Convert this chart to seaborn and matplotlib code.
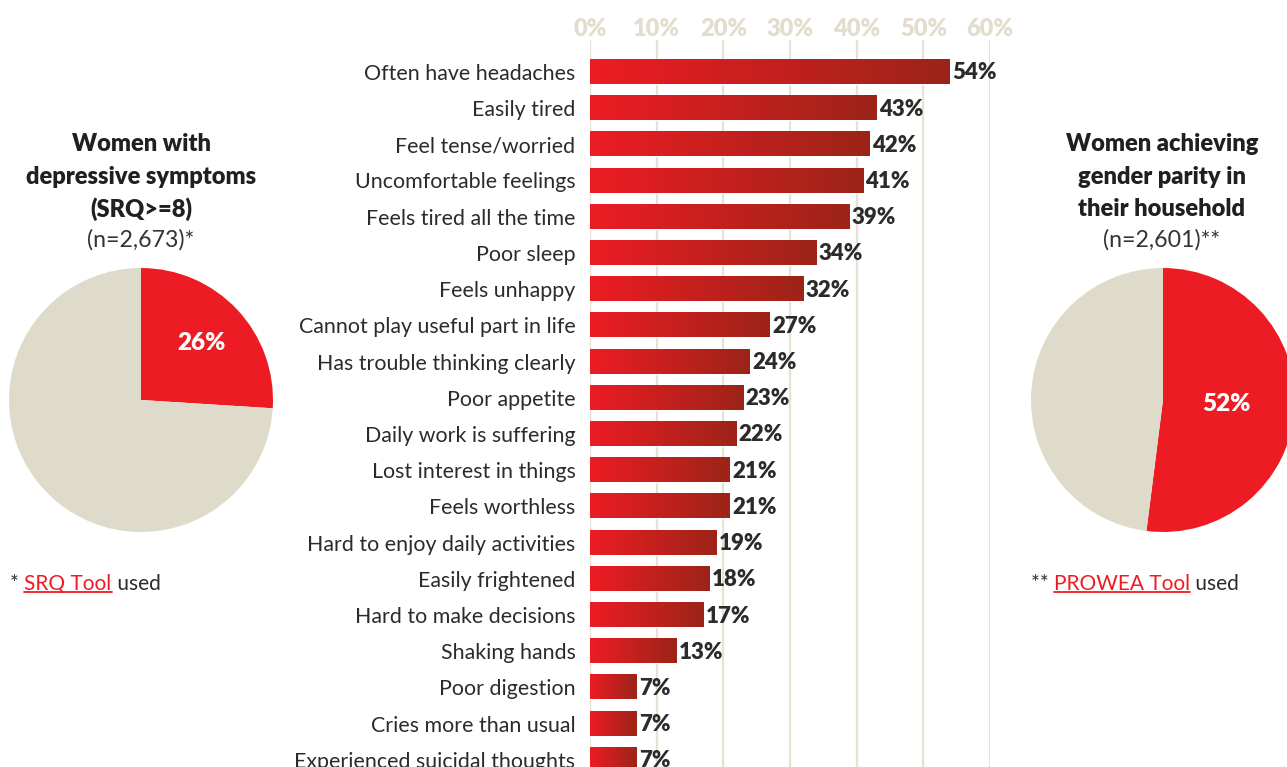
import numpy as np
import pandas as pd
import matplotlib
matplotlib.use("Agg")
import matplotlib.pyplot as plt
import seaborn as sns
from matplotlib.colors import LinearSegmentedColormap
from matplotlib.lines import Line2D

# ---- data -------------------------------------------------------------
symptoms = [
    "Often have headaches", "Easily tired", "Feel tense/worried",
    "Uncomfortable feelings", "Feels tired all the time", "Poor sleep",
    "Feels unhappy", "Cannot play useful part in life",
    "Has trouble thinking clearly", "Poor appetite",
    "Daily work is suffering", "Lost interest in things", "Feels worthless",
    "Hard to enjoy daily activities", "Easily frightened",
    "Hard to make decisions", "Shaking hands", "Poor digestion",
    "Cries more than usual", "Experienced suicidal thoughts",
]
shares = [54, 43, 42, 41, 39, 34, 32, 27, 24, 23, 22, 21, 21, 19, 18, 17, 13, 7, 7, 7]
x_ticks = [0, 10, 20, 30, 40, 50, 60]

srq_share = 26          # women with depressive symptoms
parity_share = 52       # women achieving gender parity

srq_title = ["Women with", "depressive symptoms", "(SRQ>=8)"]
srq_n = "(n=2,673)*"
parity_title = ["Women achieving", "gender parity in", "their household"]
parity_n = "(n=2,601)**"

# ---- style ------------------------------------------------------------
RED = "#ed1c24"
DARK_RED = "#9c2418"
BEIGE = "#dfdbcb"
TICK_BEIGE = "#e2ddcc"
GRID = "#e6e2d4"
INK = "#2b2b2b"

sns.set_theme(style="white")
plt.rcParams["font.family"] = ["Lato", "DejaVu Sans"]

W, H = 1287, 767
fig = plt.figure(figsize=(W / 100, H / 100), dpi=100)
fig.patch.set_facecolor("white")


def px_box(left, top, width, height):
    """Axes rectangle given in pixel units measured from the top-left corner."""
    return [left / W, 1 - (top + height) / H, width / W, height / H]


# ---- central bar chart ------------------------------------------------
ax = fig.add_axes(px_box(590, 40, 400, 727))
df = pd.DataFrame({"symptom": symptoms, "share": shares})
sns.barplot(data=df, x="share", y="symptom", orient="h", color=RED,
            width=0.67, ax=ax, zorder=2)

grad_cmap = LinearSegmentedColormap.from_list("bar_grad", [RED, DARK_RED])
gradient = np.linspace(0, 1, 256).reshape(1, -1)
for patch, val in zip(ax.patches, shares):
    x0, y0 = patch.get_x(), patch.get_y()
    w, h = patch.get_width(), patch.get_height()
    ax.imshow(gradient, extent=(x0, x0 + w, y0 + h, y0), aspect="auto",
              cmap=grad_cmap, zorder=3, interpolation="bicubic")
    ax.text(x0 + w + 0.3, y0 + h / 2 + 0.03, f"{val}%", va="center", ha="left",
            fontsize=16, fontweight="heavy", color=INK, zorder=4, clip_on=False)

ax.set_xlim(0, 60)
ax.set_ylim(19.2, -0.88)
ax.xaxis.tick_top()
ax.set_xticks(x_ticks)
ax.set_xticklabels([f"{t}%" for t in x_ticks], fontweight="heavy")
ax.tick_params(axis="x", length=0, pad=0, labelsize=17, labelcolor=TICK_BEIGE)
ax.tick_params(axis="y", length=0, pad=10.5, labelsize=15.4, labelcolor=INK)
ax.set_xlabel("")
ax.set_ylabel("")
ax.grid(axis="x", color=GRID, linewidth=1.6)
ax.grid(axis="y", visible=False)
ax.set_axisbelow(True)
for s in ax.spines.values():
    s.set_visible(False)
ax.set_facecolor("none")


# ---- side pies ----------------------------------------------------------
def draw_pie(cx, cy, r, share, label_r):
    pax = fig.add_axes(px_box(cx - r, cy - r, 2 * r, 2 * r))
    pax.pie([share, 100 - share], colors=[RED, BEIGE], startangle=90,
            counterclock=False, wedgeprops=dict(linewidth=0))
    pax.set_xlim(-1, 1)
    pax.set_ylim(-1, 1)
    pax.set_aspect("equal")
    pax.axis("off")
    mid = np.deg2rad(90 - share / 100 * 360 / 2)
    pax.text(label_r * np.cos(mid), label_r * np.sin(mid), f"{share}%",
             ha="center", va="center", color="white", fontsize=17.5,
             fontweight="heavy")
    return pax


draw_pie(141, 400, 132, srq_share, 0.63)
draw_pie(1163, 400, 132, parity_share, 0.48)


def title_block(cx, lines, n_line):
    ys = [144, 177, 209]
    for y, line in zip(ys, lines):
        fig.text(cx / W, 1 - y / H, line, ha="center", va="center",
                 fontsize=17, fontweight="heavy", color="#231f20")
    fig.text(cx / W, 1 - 240 / H, n_line, ha="center", va="center",
             fontsize=16.7, color="#333333")


title_block(141, srq_title, srq_n)
title_block(1162, parity_title, parity_n)


# ---- footnotes with an underlined tool name ---------------------------
def footnote(x_px, y_px, prefix, link, suffix):
    renderer = fig.canvas.get_renderer()
    x = x_px
    y = 1 - y_px / H
    parts = [(prefix, INK), (link, RED), (suffix, INK)]
    link_span = None
    for text, color in parts:
        t = fig.text(x / W, y, text, ha="left", va="center", fontsize=15,
                     color=color)
        bb = t.get_window_extent(renderer=renderer)
        if text == link:
            link_span = (bb.x0, bb.x1, bb.y0)
        x = bb.x1
    x0, x1, yb = link_span
    fig.add_artist(Line2D([x0 / W, x1 / W], [(yb + 2) / H, (yb + 2) / H],
                          transform=fig.transFigure, color=RED, lw=1.3))


footnote(10, 584, "* ", "SRQ Tool", " used")
footnote(1031, 584, "** ", "PROWEA Tool", " used")

fig.savefig("out.png", dpi=100, facecolor="white")
